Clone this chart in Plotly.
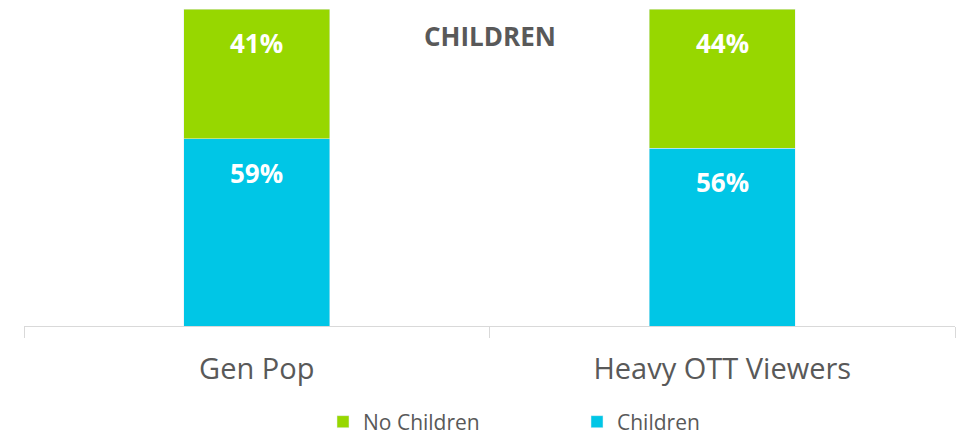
import plotly.graph_objects as go

categories = ["Gen Pop", "Heavy OTT Viewers"]
children = [59, 56]
no_children = [41, 44]
title_text = "CHILDREN"

green = "#97D700"
cyan = "#00C6E6"
gray = "#595959"

fig = go.Figure()
fig.add_trace(go.Bar(x=categories, y=children, name="Children",
                     marker_color=cyan, width=0.314, hoverinfo="skip"))
fig.add_trace(go.Bar(x=categories, y=no_children, name="No Children",
                     marker_color=green, width=0.314, hoverinfo="skip"))

annotations = [dict(text=f"<b>{title_text}</b>", xref="paper", yref="paper",
                    x=0.5, y=1, yshift=-27, xanchor="center", yanchor="middle",
                    showarrow=False,
                    font=dict(family="Open Sans", size=26, color=gray))]
for cat, c, n in zip(categories, children, no_children):
    for top, val in ((c, c), (c + n, n)):
        annotations.append(dict(text=f"<b>{val}%</b>", x=cat, y=top,
                                xref="x", yref="y", yshift=-34,
                                xanchor="center", yanchor="middle",
                                showarrow=False,
                                font=dict(family="Open Sans", size=26, color="white")))

fig.update_layout(
    barmode="stack",
    width=966, height=427,
    margin=dict(l=16, r=19, t=1, b=109),
    paper_bgcolor="white", plot_bgcolor="white",
    showlegend=True,
    legend=dict(orientation="h", traceorder="reversed",
                xref="container", yref="container",
                x=315/966, xanchor="left", y=13/427, yanchor="middle",
                font=dict(family="Open Sans", size=21, color=gray),
                entrywidth=209, entrywidthmode="pixels",
                itemclick=False, itemdoubleclick=False),
    annotations=annotations,
)
fig.update_xaxes(showline=True, linecolor="#D9D9D9", linewidth=1,
                 ticks="outside", tickson="boundaries", ticklen=11,
                 tickcolor="#D9D9D9", ticklabelstandoff=17,
                 tickfont=dict(family="Open Sans", size=29, color=gray))
fig.update_yaxes(range=[0, 100], visible=False, showgrid=False)

fig.write_html("out.html")
